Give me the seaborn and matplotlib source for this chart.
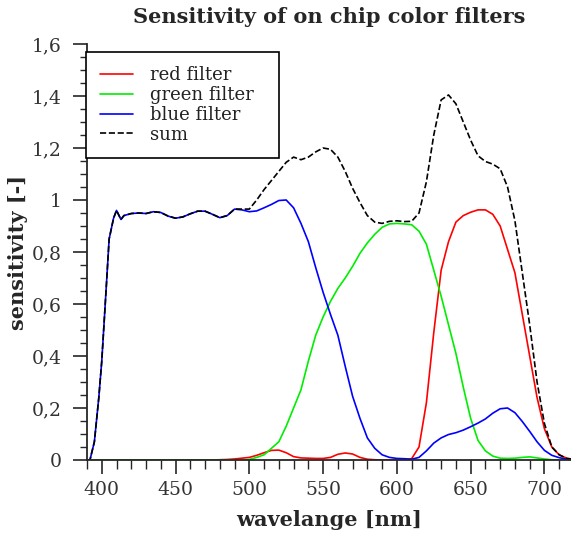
import matplotlib
matplotlib.use('Agg')
import matplotlib.pyplot as plt
import seaborn as sns
import pandas as pd
from matplotlib.ticker import MultipleLocator, FuncFormatter

# wavelength grid [nm]
wavelength = [390, 392, 395, 398, 400, 403, 405, 408, 410, 413, 415,
              420, 425, 430, 435, 440, 445, 450, 455, 460, 465, 470, 475, 480, 485, 490, 495,
              500, 505, 510, 515, 520, 525, 530, 535, 540, 545, 550, 555, 560, 565, 570, 575,
              580, 585, 590, 595, 600, 605, 610, 615, 620, 625, 630, 635, 640, 645, 650, 655,
              660, 665, 670, 675, 680, 685, 690, 695, 700, 705, 710, 715, 720]

red = [0, 0, 0, 0, 0, 0, 0, 0, 0, 0, 0,
       0, 0, 0, 0, 0, 0, 0, 0, 0, 0, 0, 0, 0.001, 0.002, 0.004, 0.007,
       0.01, 0.018, 0.028, 0.037, 0.038, 0.028, 0.013, 0.008, 0.007, 0.006, 0.006, 0.01, 0.022, 0.027, 0.023, 0.01,
       0.003, 0.001, 0, 0, 0, 0, 0.005, 0.05, 0.22, 0.49, 0.73, 0.84, 0.915, 0.94, 0.953, 0.962,
       0.962, 0.945, 0.9, 0.81, 0.72, 0.56, 0.4, 0.24, 0.12, 0.05, 0.02, 0.007, 0.002]

green = [0, 0, 0, 0, 0, 0, 0, 0, 0, 0, 0,
         0, 0, 0, 0, 0, 0, 0, 0, 0, 0, 0, 0, 0, 0, 0, 0,
         0.002, 0.01, 0.02, 0.045, 0.07, 0.13, 0.2, 0.27, 0.38, 0.48, 0.55, 0.61, 0.66, 0.7, 0.745, 0.795,
         0.835, 0.868, 0.895, 0.908, 0.91, 0.908, 0.905, 0.88, 0.83, 0.73, 0.63, 0.52, 0.41, 0.28, 0.16, 0.075,
         0.035, 0.015, 0.007, 0.006, 0.007, 0.01, 0.012, 0.008, 0.004, 0.001, 0, 0, 0]

blue = [0, 0, 0.07, 0.24, 0.38, 0.66, 0.85, 0.93, 0.96, 0.925, 0.94,
        0.948, 0.95, 0.948, 0.955, 0.952, 0.938, 0.93, 0.935, 0.947, 0.957, 0.957, 0.945, 0.932, 0.94, 0.965, 0.962,
        0.955, 0.958, 0.97, 0.983, 0.998, 1.0, 0.97, 0.91, 0.84, 0.74, 0.645, 0.56, 0.48, 0.36, 0.245, 0.16,
        0.085, 0.045, 0.02, 0.01, 0.006, 0.005, 0.003, 0.01, 0.035, 0.065, 0.085, 0.098, 0.105, 0.115, 0.128, 0.142,
        0.158, 0.18, 0.197, 0.2, 0.182, 0.148, 0.11, 0.07, 0.037, 0.018, 0.009, 0.003, 0.001]

total = [0, 0, 0.07, 0.24, 0.38, 0.66, 0.85, 0.93, 0.96, 0.925, 0.94,
         0.948, 0.95, 0.948, 0.955, 0.952, 0.938, 0.93, 0.935, 0.947, 0.957, 0.957, 0.945, 0.932, 0.94, 0.965, 0.965,
         0.965, 1.0, 1.04, 1.075, 1.11, 1.145, 1.165, 1.155, 1.165, 1.185, 1.2, 1.195, 1.165, 1.11, 1.045, 0.99,
         0.94, 0.915, 0.91, 0.918, 0.92, 0.917, 0.918, 0.95, 1.07, 1.25, 1.385, 1.404, 1.37, 1.3, 1.23, 1.17,
         1.148, 1.138, 1.12, 1.05, 0.92, 0.72, 0.52, 0.3, 0.14, 0.05, 0.02, 0.006, 0.002]

df = pd.DataFrame({'wavelength': wavelength, 'red': red, 'green': green,
                   'blue': blue, 'sum': total})

sns.set_style('ticks')
plt.rcParams['font.family'] = ['DejaVu Serif']

fig = plt.figure(figsize=(5.71, 5.39), dpi=100)
ax = fig.add_axes([87 / 571, 79 / 539, 484 / 571, 416 / 539])

sns.lineplot(data=df, x='wavelength', y='red', color='#ff0000', lw=1.2, label='red filter', ax=ax)
sns.lineplot(data=df, x='wavelength', y='green', color='#00ee00', lw=1.2, label='green filter', ax=ax)
sns.lineplot(data=df, x='wavelength', y='blue', color='#0000ff', lw=1.2, label='blue filter', ax=ax)
sns.lineplot(data=df, x='wavelength', y='sum', color='black', lw=1.2, linestyle='--', label='sum', ax=ax)

ax.set_xlim(390, 718)
ax.set_ylim(0, 1.6)
ax.xaxis.set_major_locator(MultipleLocator(50))
ax.xaxis.set_minor_locator(MultipleLocator(10))
ax.yaxis.set_major_locator(MultipleLocator(0.2))
ax.yaxis.set_minor_locator(MultipleLocator(0.05))


def comma(v, pos):
    s = f"{v:.1f}".rstrip('0').rstrip('.')
    return s.replace('.', ',')


ax.yaxis.set_major_formatter(FuncFormatter(comma))

sns.despine(ax=ax)
for sp in ['left', 'bottom']:
    ax.spines[sp].set_linewidth(1.3)
ax.tick_params(which='major', length=10, width=1.2, labelsize=13.5, labelcolor='#333333', pad=5)
ax.tick_params(axis='y', which='major', pad=8)
ax.tick_params(axis='x', which='minor', length=6.5, width=1.0)
ax.tick_params(axis='y', which='minor', length=5, width=1.0)

ax.set_title('Sensitivity of on chip color filters', fontsize=15, fontweight='bold', pad=15)
ax.set_xlabel('wavelange [nm]', fontsize=15, fontweight='bold', labelpad=8)
ax.set_ylabel('sensitivity [-]', fontsize=15, fontweight='bold', labelpad=3)

leg = ax.legend(loc='upper left', bbox_to_anchor=(-0.003, 0.681, 193 / 484, 0.3), mode='expand',
                fontsize=13, frameon=True, fancybox=False, borderpad=0.8, handlelength=1.85,
                handletextpad=0.9, labelspacing=0.1, borderaxespad=0)
leg.get_frame().set_edgecolor('black')
leg.get_frame().set_linewidth(1.2)
leg.get_frame().set_alpha(1)
for t in leg.get_texts():
    t.set_color('#222222')

fig.savefig('out.png', dpi=100)
